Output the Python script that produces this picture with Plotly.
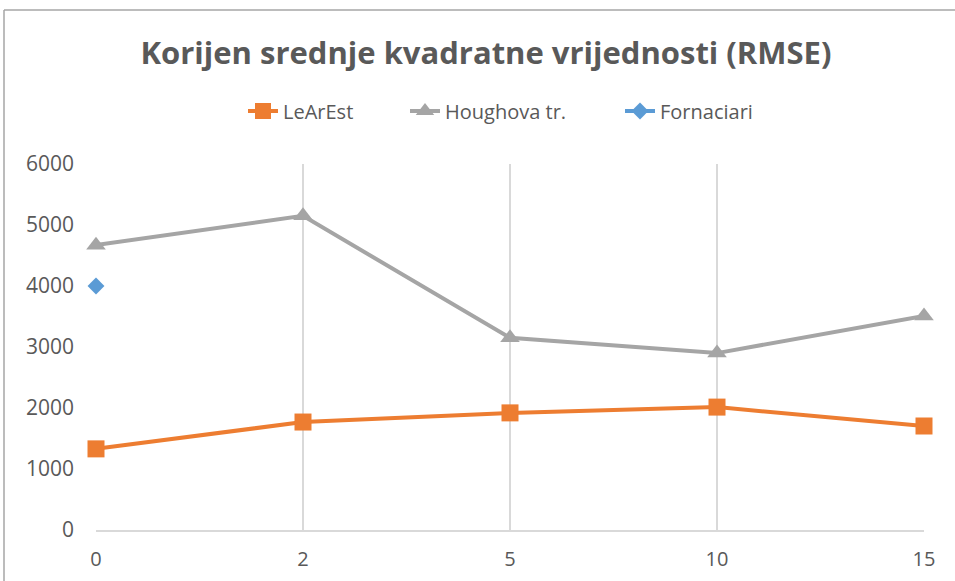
import plotly.graph_objects as go

# Noise level (x categories) and RMSE values per method
categories = ["0", "2", "5", "10", "15"]
learest = [1330, 1770, 1920, 2015, 1705]
houghova = [4670, 5150, 3150, 2900, 3510]
fornaciari = [4000, None, None, None, None]
y_ticks = [0, 1000, 2000, 3000, 4000, 5000, 6000]

W, H = 955, 581
L, R, T, B = 96, 31, 164, 51
pw, ph = W - L - R, H - T - B

def px_x(p):
    return (p - L) / pw

def px_y(p):
    return (H - B - p) / ph

fig = go.Figure()
fig.add_trace(go.Scatter(
    x=categories, y=learest, name="LeArEst", mode="lines+markers",
    line=dict(color="#ED7D31", width=4),
    marker=dict(symbol="square", size=17, color="#ED7D31"),
    cliponaxis=False, legend="legend",
))
fig.add_trace(go.Scatter(
    x=categories, y=houghova, name="Houghova tr.", mode="lines+markers",
    line=dict(color="#A5A5A5", width=4),
    marker=dict(symbol="triangle-up", size=17, color="#A5A5A5"),
    cliponaxis=False, legend="legend2",
))
fig.add_trace(go.Scatter(
    x=categories, y=fornaciari, name="Fornaciari", mode="lines+markers",
    line=dict(color="#5B9BD5", width=4),
    marker=dict(symbol="diamond", size=13, color="#5B9BD5"),
    cliponaxis=False, legend="legend3",
))

# Outer chart frame (top and left edges)
frame = dict(color="#A6A6A6", width=1.5)
fig.add_shape(type="line", xref="paper", yref="paper",
              x0=px_x(4), x1=px_x(W + 5), y0=px_y(10), y1=px_y(10), line=frame)
fig.add_shape(type="line", xref="paper", yref="paper",
              x0=px_x(4), x1=px_x(4), y0=px_y(10), y1=px_y(H + 5), line=frame)

def legend_at(left_px):
    return dict(
        orientation="h", x=px_x(left_px), xanchor="left",
        y=px_y(111), yanchor="middle",
        font=dict(size=20, color="#595959"),
        bgcolor="rgba(0,0,0,0)",
    )

fig.update_layout(
    width=W, height=H,
    margin=dict(l=L, r=R, t=T, b=B, autoexpand=False),
    paper_bgcolor="white", plot_bgcolor="white",
    font=dict(family="Open Sans", color="#595959"),
    title=dict(
        text="<b>Korijen srednje kvadratne vrijednosti (RMSE)</b>",
        x=486 / W, xanchor="center", xref="container",
        y=1 - 53 / H, yanchor="middle", yref="container",
        font=dict(size=31, color="#595959", family="Open Sans"),
    ),
    legend=legend_at(283 - 40),
    legend2=legend_at(445 - 40),
    legend3=legend_at(660 - 40),
    xaxis=dict(
        type="category", range=[0, 4], automargin=False,
        showgrid=True, gridcolor="#D9D9D9", gridwidth=1.5,
        showline=True, linecolor="#D9D9D9", linewidth=1.5,
        ticks="", ticklabelstandoff=10,
        tickfont=dict(size=20, color="#595959"),
        zeroline=False,
    ),
    yaxis=dict(
        range=[0, 6000], tickvals=y_ticks, automargin=False,
        showgrid=False, showline=False, zeroline=False,
        ticks="", ticklabelstandoff=21,
        tickfont=dict(size=21, color="#595959"),
    ),
    showlegend=True,
)

fig.write_html("out.html")
